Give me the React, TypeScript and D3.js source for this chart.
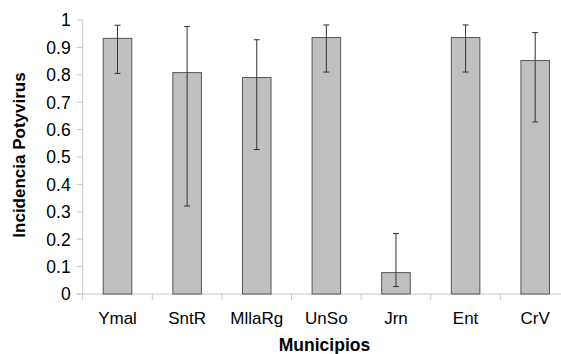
import React from "react";
import * as d3 from "d3";

const categories = ["Ymal", "SntR", "MllaRg", "UnSo", "Jrn", "Ent", "CrV"];
const values = [0.933, 0.808, 0.79, 0.936, 0.078, 0.936, 0.852];
const errHigh = [0.981, 0.976, 0.928, 0.982, 0.221, 0.982, 0.954];
const errLow = [0.805, 0.321, 0.527, 0.81, 0.027, 0.81, 0.628];
const yTicks = [0, 0.1, 0.2, 0.3, 0.4, 0.5, 0.6, 0.7, 0.8, 0.9, 1];
const yTickLabels = ["0", "0.1", "0.2", "0.3", "0.4", "0.5", "0.6", "0.7", "0.8", "0.9", "1"];

const W = 561;
const H = 354;
const left = 82.7;
const right = 570;
const top = 20;
const bottom = 294;

export default function App() {
  const x = d3
    .scaleBand<string>()
    .domain(categories)
    .range([left, right])
    .paddingInner(0.59)
    .paddingOuter(0.295);
  const y = d3.scaleLinear().domain([0, 1]).range([bottom, top]);
  const step = x.step();
  const font = "Liberation Sans, Arial, sans-serif";
  const axisColor = "#c8c8c8";

  return (
    <svg
      width={W}
      height={H}
      style={{ position: "absolute", left: 0, top: 0, background: "#fff" }}
      fontFamily={font}
    >
      {/* y axis */}
      <line x1={left} x2={left} y1={y(1)} y2={bottom} stroke={axisColor} strokeWidth={1} />
      {yTicks.map((t, i) => (
        <g key={i}>
          <line x1={left - 6} x2={left} y1={y(t)} y2={y(t)} stroke={axisColor} />
          <text x={70.7} y={y(t)} dy="0.36em" textAnchor="end" fontSize={17.5} fill="#000">
            {yTickLabels[i]}
          </text>
        </g>
      ))}
      {/* x axis */}
      <line x1={left - 6} x2={W} y1={bottom} y2={bottom} stroke={axisColor} />
      {categories.map((c, i) => (
        <line
          key={c}
          x1={left + i * step}
          x2={left + i * step}
          y1={bottom}
          y2={bottom + 6}
          stroke={axisColor}
        />
      ))}
      {/* bars */}
      {categories.map((c, i) => (
        <rect
          key={c}
          x={x(c)!}
          y={y(values[i])}
          width={x.bandwidth()}
          height={bottom - y(values[i])}
          fill="#c0c0c0"
          stroke="#555"
          strokeWidth={1}
        />
      ))}
      {/* error bars */}
      {categories.map((c, i) => {
        const cx = x(c)! + x.bandwidth() / 2;
        return (
          <g key={c} stroke="#333" strokeWidth={1}>
            <line x1={cx} x2={cx} y1={y(errHigh[i])} y2={y(errHigh[i]) + (y(errLow[i]) - y(errHigh[i]))} />
            <line x1={cx - 3} x2={cx + 3} y1={y(errHigh[i])} y2={y(errHigh[i])} />
            <line x1={cx - 3} x2={cx + 3} y1={y(errLow[i])} y2={y(errLow[i])} />
          </g>
        );
      })}
      {/* category labels */}
      {categories.map((c) => (
        <text
          key={c}
          x={x(c)! + x.bandwidth() / 2}
          y={324}
          textAnchor="middle"
          fontSize={17}
          fill="#000"
        >
          {c}
        </text>
      ))}
      <text x={324.5} y={350.5} textAnchor="middle" fontSize={17.5} fontWeight="bold" fill="#000">
        Municipios
      </text>
      <text
        transform={`translate(25,155) rotate(-90)`}
        textAnchor="middle"
        fontSize={17}
        fontWeight="bold"
        fill="#000"
      >
        Incidencia Potyvirus
      </text>
    </svg>
  );
}
